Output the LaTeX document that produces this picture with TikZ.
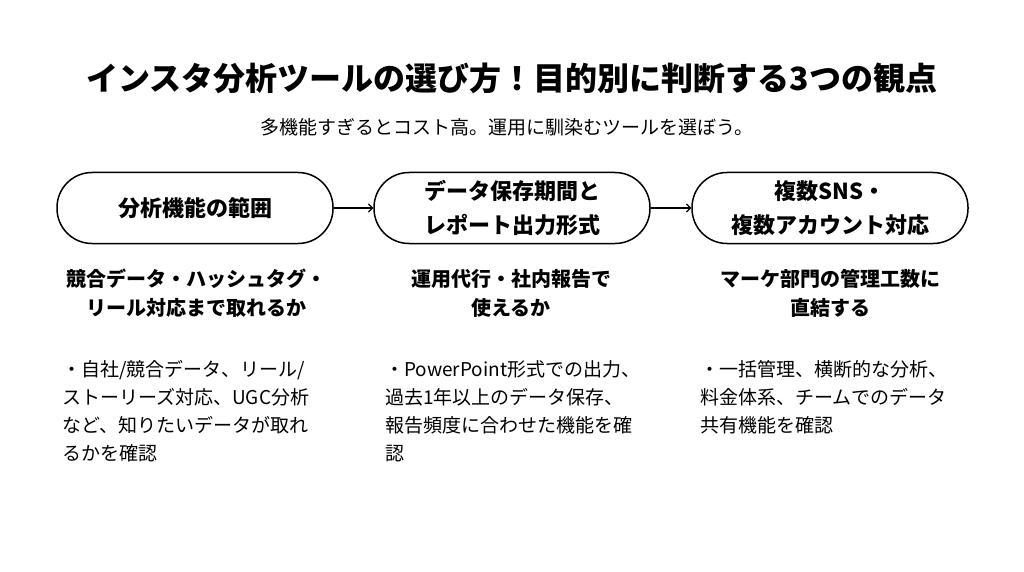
\documentclass[tikz,border=0pt]{standalone}
\usepackage{fontspec}
\setmainfont{Noto Sans CJK JP}
\usetikzlibrary{positioning, arrows.meta}

\begin{document}
\begin{tikzpicture}[x=1pt, y=-1pt,
        pill/.style={rectangle, rounded corners=35pt, draw=black, line width=1.5pt, minimum width=276pt, minimum height=71pt, align=center, font=\fontsize{22}{34}\selectfont\bfseries},
        point/.style={align=center, font=\fontsize{20}{29}\selectfont\bfseries},
        note/.style={align=left, anchor=north west, inner sep=0pt, font=\fontsize{19}{28}\selectfont},
        link/.style={-{Straight Barb[length=4pt, width=8pt]}, line width=1.2pt}
    ]
    \useasboundingbox (0,0) rectangle (1024,572);
    \node[font=\fontsize{32}{38}\selectfont\bfseries] (title) at (512,78) {インスタ分析ツールの選び方！目的別に判断する3つの観点};
    \node[font=\fontsize{19}{24}\selectfont] (sub) at (507,127) {多機能すぎるとコスト高。運用に馴染むツールを選ぼう。};
    % steps
    \node[pill] (scope) at (195,208) {分析機能の範囲};
    \node[pill] (store) at (512,208) {データ保存期間と\\レポート出力形式};
    \node[pill] (multi) at (830,208) {複数SNS・\\複数アカウント対応};
    \draw[link] (scope) -- (store);
    \draw[link] (store) -- (multi);
    % why it matters
    \node[point] (scopewhy) at (196,293) {競合データ・ハッシュタグ・\\リール対応まで取れるか};
    \node[point] (storewhy) at (511,293) {運用代行・社内報告で\\使えるか};
    \node[point] (multiwhy) at (830,293) {マーケ部門の管理工数に\\直結する};
    % details
    \node[note] (scopenote) at (62,360) {・自社/競合データ、リール/\\ストーリーズ対応、UGC分析\\など、知りたいデータが取れ\\るかを確認};
    \node[note] (storenote) at (385,360) {・PowerPoint形式での出力、\\過去1年以上のデータ保存、\\報告頻度に合わせた機能を確\\認};
    \node[note] (multinote) at (700,360) {・一括管理、横断的な分析、\\料金体系、チームでのデータ\\共有機能を確認};
\end{tikzpicture}
\end{document}
